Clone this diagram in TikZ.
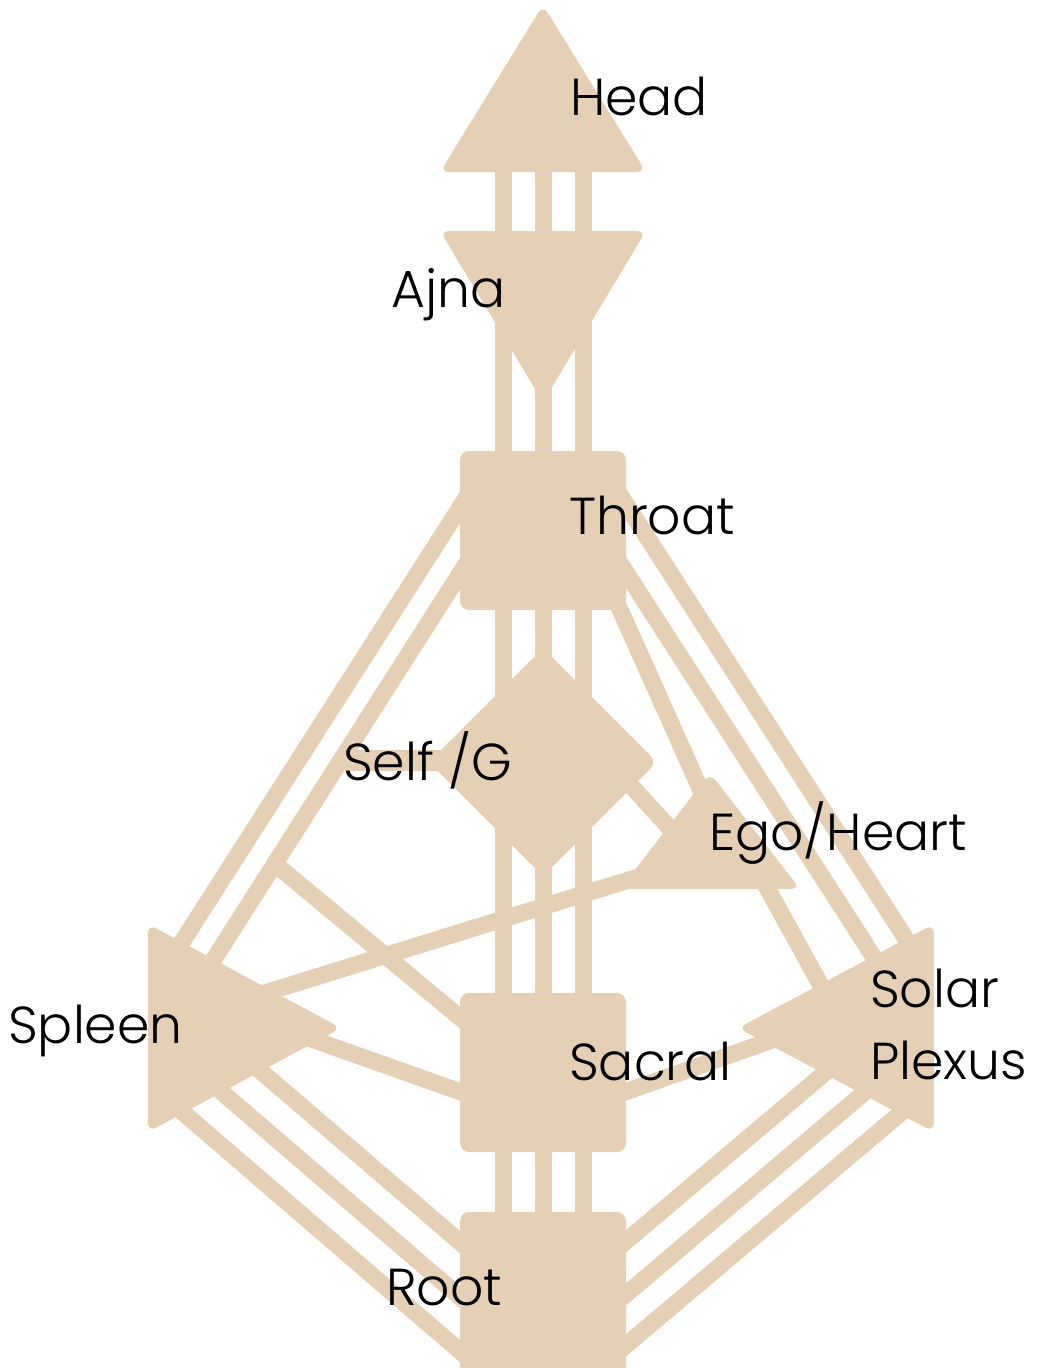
\documentclass[tikz,border=0pt]{standalone}
\usepackage{fontspec}
\setmainfont{Poppins}[UprightFont={* Light}]
\definecolor{beige}{RGB}{229,208,181}
\begin{document}
\begin{tikzpicture}[x=1pt,y=-1pt,
  centre/.style={fill=beige, rounded corners=9pt},
  channel/.style={draw=beige, line width=17pt},
  lbl/.style={anchor=base west, inner sep=0pt, text=black, font=\fontsize{52}{60}\selectfont}]
\useasboundingbox (0,0) rectangle (1047,1368);
% ---------- channel end points ----------
% vertical channels
\foreach \x/\n in {503/a,543/b,583/c}{
  \coordinate (hd\n) at (\x,160);  \coordinate (aj\n) at (\x,245);
  \coordinate (ajb\n) at (\x,300); \coordinate (th\n) at (\x,465);
  \coordinate (thb\n) at (\x,600); \coordinate (gt\n) at (\x,705);
  \coordinate (gb\n) at (\x,820); \coordinate (sct\n) at (\x,1005);
  \coordinate (scb\n) at (\x,1140); \coordinate (rt\n) at (\x,1225);
}
% throat - spleen
\coordinate (tsA1) at (475,484); \coordinate (tsA2) at (175,953);
\coordinate (tsB1) at (470,558); \coordinate (tsB2) at (205,973);
% inner throat-spleen line to sacral
\coordinate (mid1) at (275,864); \coordinate (mid2) at (475,1030);
% ego - spleen
\coordinate (es1) at (645,875); \coordinate (es2) at (255,996);
% spleen - sacral
\coordinate (ss1) at (300,1035); \coordinate (ss2) at (475,1097);
% spleen - root
\coordinate (srA1) at (250,1062); \coordinate (srA2) at (475,1255);
\coordinate (srB1) at (210,1082); \coordinate (srB2) at (475,1310);
\coordinate (srC1) at (172,1103); \coordinate (srC2) at (475,1364);
% throat - solar plexus
\coordinate (tpA1) at (611,481); \coordinate (tpA2) at (917,956);
\coordinate (tpB1) at (611,549); \coordinate (tpB2) at (884,973);
% throat - ego
\coordinate (te1) at (610,587); \coordinate (te2) at (703,795);
% G - ego
\coordinate (ge1) at (615,768); \coordinate (ge2) at (675,834);
% ego - solar plexus
\coordinate (ep1) at (760,875); \coordinate (ep2) at (830,1002);
% sacral - solar plexus
\coordinate (sp1) at (611,1097); \coordinate (sp2) at (775,1039);
% solar plexus - root
\coordinate (prA1) at (833,1066); \coordinate (prA2) at (611,1254);
\coordinate (prB1) at (872,1086); \coordinate (prB2) at (611,1307);
\coordinate (prC1) at (909,1106); \coordinate (prC2) at (611,1358);
% stub behind Self
\coordinate (st1) at (345,760.5); \coordinate (st2) at (450,760.5);

% ---------- channels ----------
\foreach \n in {a,b,c}{
  \draw[channel] (hd\n) -- (aj\n);
  \draw[channel] (ajb\n) -- (th\n);
  \draw[channel] (thb\n) -- (gt\n);
  \draw[channel] (gb\n) -- (sct\n);
  \draw[channel] (scb\n) -- (rt\n);
}
\draw[channel] (tsA1) -- (tsA2);
\draw[channel] (tsB1) -- (tsB2);
\draw[channel] (mid1) -- (mid2);
\draw[channel] (es1) -- (es2);
\draw[channel] (ss1) -- (ss2);
\draw[channel] (srA1) -- (srA2);
\draw[channel] (srB1) -- (srB2);
\draw[channel] (srC1) -- (srC2);
\draw[channel] (tpA1) -- (tpA2);
\draw[channel] (tpB1) -- (tpB2);
\draw[channel] (te1) -- (te2);
\draw[channel] (ge1) -- (ge2);
\draw[channel] (ep1) -- (ep2);
\draw[channel] (sp1) -- (sp2);
\draw[channel] (prA1) -- (prA2);
\draw[channel] (prB1) -- (prB2);
\draw[channel] (prC1) -- (prC2);
\draw[draw=beige, line width=21pt] (st1) -- (st2);

% ---------- centres ----------
\fill[centre] (440,172) -- (543,5) -- (646,172) -- cycle;            % Head
\fill[centre] (440,231) -- (646,231) -- (543,402) -- cycle;          % Ajna
\fill[centre] (460,451) rectangle (626,610);                          % Throat
\fill[centre] (543,648) -- (657,762) -- (543,876) -- (429,762) -- cycle; % G
\fill[centre] (710,773) -- (800,889) -- (620,889) -- cycle;          % Ego
\fill[centre] (148,924) -- (341,1028) -- (148,1132) -- cycle;        % Spleen
\fill[centre] (934,924) -- (738,1028) -- (934,1132) -- cycle;        % Solar plexus
\fill[centre] (460,993) rectangle (626,1152);                         % Sacral
\fill[centre] (460,1212) rectangle (626,1378);                        % Root

% ---------- labels ----------
\node[lbl] (lhead) at (570,115) {Head};
\node[lbl] (lajna) at (391,307) {Ajna};
\node[lbl] (lthroat) at (569,534) {Throat};
\node[lbl] (lg) at (343,780) {Self /G};
\node[lbl] (lego) at (709,850) {Ego/Heart};
\node[lbl] (lsolar) at (870,1007) {Solar};
\node[lbl] (lplexus) at (870,1079) {Plexus};
\node[lbl] (lspleen) at (8,1043) {Spleen};
\node[lbl] (lsacral) at (569,1080) {Sacral};
\node[lbl] (lroot) at (386,1305) {Root};
\end{tikzpicture}
\end{document}
